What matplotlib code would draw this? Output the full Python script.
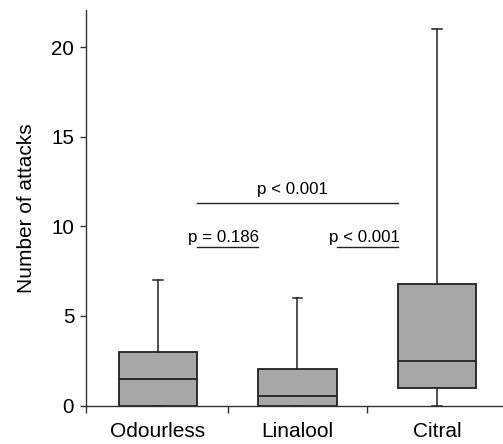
import matplotlib
matplotlib.use("Agg")
import matplotlib.pyplot as plt

# ---- data ----
categories = ["Odourless", "Linalool", "Citral"]
whisker_low = [0, 0, 0]
q1 = [0, 0, 1.0]
median = [1.5, 0.55, 2.5]
q3 = [3.0, 2.05, 6.8]
whisker_high = [7.0, 6.0, 21.0]
comparisons = [(0, 2), (0, 1), (1, 2)]
p_labels = ["p < 0.001", "p = 0.186", "p < 0.001"]
bracket_heights = [11.3, 8.84, 8.84]
y_ticks = [0, 5, 10, 15, 20]

plt.rcParams["font.family"] = ["Liberation Sans", "DejaVu Sans"]

fig = plt.figure(figsize=(5.03, 4.44), dpi=100)
ax = fig.add_axes([86 / 503, 1 - 405.5 / 444, 1 - 86 / 503, (405.5 - 10) / 444])

box_w = 0.566
stats = []
for i, c in enumerate(categories):
    stats.append(dict(label=c, whislo=whisker_low[i], q1=q1[i], med=median[i],
                      q3=q3[i], whishi=whisker_high[i], fliers=[]))

edge = "#222222"
ax.bxp(stats, positions=range(len(categories)), widths=box_w, patch_artist=True,
       showfliers=False, capwidths=0.065,
       boxprops=dict(facecolor="#a7a7a7", edgecolor=edge, linewidth=1.3),
       medianprops=dict(color=edge, linewidth=1.3),
       whiskerprops=dict(color=edge, linewidth=1.1),
       capprops=dict(color=edge, linewidth=1.1))

xmin, xmax = -0.516, 2.473
ax.set_xlim(xmin, xmax)
ax.set_ylim(0, 22.07)

# significance brackets
half = box_w / 2
for (a, b), lab, h in zip(comparisons, p_labels, bracket_heights):
    ax.plot([a + half, b - half], [h, h], color=edge, lw=1.0, clip_on=False)

ax.text(0.964, 12.04, p_labels[0], ha="center", va="center", fontsize=12.2)
ax.text(0.473, 9.37, p_labels[1], ha="center", va="center", fontsize=12.2)
ax.text(1.477, 9.37, p_labels[2], ha="center", va="center", fontsize=12.2)

# axes styling
for s in ["top", "right"]:
    ax.spines[s].set_visible(False)
for s in ["left", "bottom"]:
    ax.spines[s].set_color("#333333")
    ax.spines[s].set_linewidth(1.0)

ax.set_yticks(y_ticks)
ax.tick_params(axis="y", direction="out", length=4.5, width=1.0, color="#333333",
               labelsize=14.8, pad=4)
ax.set_xticks(range(len(categories)))
ax.set_xticklabels(categories)
ax.tick_params(axis="x", which="major", length=0, labelsize=15, pad=12)
ax.set_xticks([xmin, 0.5, 1.5], minor=True)
ax.tick_params(axis="x", which="minor", direction="out", length=5, width=1.0,
               color="#333333")
ax.set_ylabel("Number of attacks", fontsize=15, labelpad=11)

fig.savefig("out.png", dpi=100)
